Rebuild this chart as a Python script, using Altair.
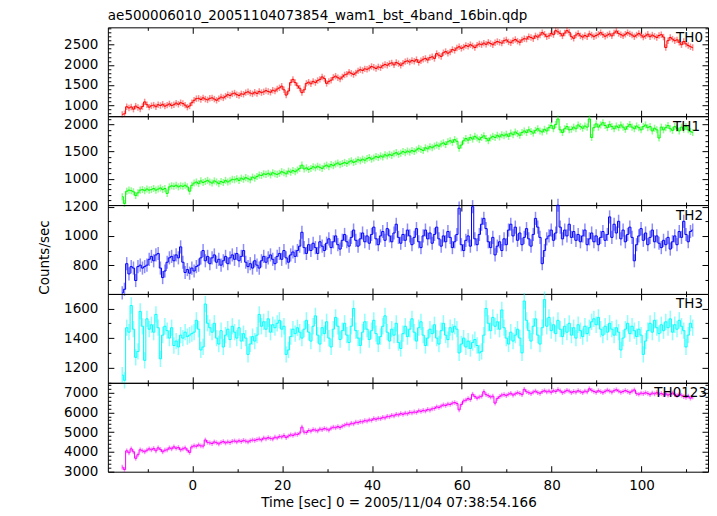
import altair as alt
import pandas as pd

# ---------------- data (counts/sec, 0.5 s bins) ----------------
T_START = -15.6
BIN = 0.5

TH0 = [770, 785, 960, 930, 955, 900, 975, 940, 905, 965,
       1080, 1010, 950, 985, 1000, 960, 1010, 990, 1020, 975,
       1000, 1030, 990, 1010, 1050, 1020, 1060, 1040, 1000, 950,
       980, 1060, 1120, 1160, 1170, 1140, 1180, 1150, 1130, 1170,
       1180, 1150, 1120, 1160, 1200, 1180, 1220, 1260, 1240, 1280,
       1300, 1260, 1240, 1280, 1270, 1310, 1330, 1300, 1280, 1320,
       1290, 1340, 1310, 1330, 1360, 1340, 1320, 1370, 1350, 1400,
       1430, 1470, 1380, 1250, 1350, 1560, 1640, 1560, 1480, 1420,
       1310, 1380, 1540, 1570, 1530, 1590, 1560, 1610, 1640, 1700,
       1660, 1540, 1590, 1620, 1690, 1720, 1680, 1650, 1700, 1750,
       1770, 1820, 1790, 1760, 1800, 1850, 1880, 1860, 1900, 1890,
       1920, 1960, 1940, 1910, 1950, 1930, 1980, 2010, 1990, 2030,
       2050, 2000, 2060, 2030, 1990, 2040, 2080, 2100, 2070, 2110,
       2090, 2130, 2060, 2100, 2140, 2160, 2120, 2180, 2200, 2160,
       2280, 2240, 2210, 2300, 2330, 2290, 2320, 2380, 2360, 2420,
       2450, 2410, 2440, 2480, 2460, 2500, 2470, 2430, 2490, 2520,
       2500, 2540, 2510, 2560, 2530, 2500, 2550, 2580, 2560, 2540,
       2600, 2620, 2570, 2550, 2600, 2630, 2590, 2560, 2620, 2650,
       2640, 2700, 2680, 2650, 2720, 2690, 2740, 2800, 2760, 2700,
       2720, 2780, 2750, 2850, 2820, 2780, 2720, 2790, 2850, 2810,
       2700, 2660, 2740, 2780, 2720, 2690, 2730, 2700, 2770, 2740,
       2700, 2730, 2760, 2800, 2750, 2710, 2740, 2770, 2720, 2790,
       2840, 2780, 2750, 2720, 2760, 2800, 2770, 2740, 2700, 2740,
       2780, 2740, 2690, 2720, 2760, 2700, 2740, 2710, 2680, 2730,
       2750, 2690, 2430, 2600, 2680, 2640, 2600, 2620, 2560, 2500,
       2580, 2520, 2480, 2450, 2430]

TH1 = [670, 545, 770, 790, 780, 760, 690, 740, 790, 800,
       780, 810, 790, 800, 820, 790, 810, 830, 800, 820,
       730, 850, 870, 860, 880, 850, 870, 860, 880, 850,
       770, 880, 920, 940, 910, 960, 930, 950, 970, 940,
       920, 960, 940, 910, 950, 930, 970, 940, 960, 990,
       980, 1000, 970, 1010, 990, 1020, 1000, 980, 1030, 1010,
       1040, 1070, 1060, 1090, 1080, 1100, 1070, 1110, 1090, 1080,
       1100, 1130, 1110, 1090, 1140, 1120, 1150, 1130, 1160, 1190,
       1250, 1180, 1200, 1170, 1190, 1220, 1200, 1230, 1210, 1190,
       1230, 1250, 1220, 1260, 1240, 1270, 1290, 1260, 1280, 1300,
       1280, 1310, 1330, 1300, 1320, 1350, 1330, 1360, 1340, 1370,
       1390, 1360, 1380, 1410, 1390, 1420, 1400, 1440, 1420, 1450,
       1430, 1460, 1480, 1450, 1470, 1500, 1480, 1510, 1490, 1520,
       1500, 1530, 1560, 1540, 1520, 1570, 1550, 1590, 1570, 1600,
       1620, 1600, 1640, 1660, 1630, 1680, 1700, 1670, 1720, 1690,
       1560, 1620, 1700, 1740, 1710, 1760, 1730, 1780, 1750, 1720,
       1760, 1790, 1740, 1700, 1750, 1780, 1760, 1800, 1770, 1810,
       1790, 1820, 1780, 1840, 1810, 1860, 1830, 1800, 1850, 1880,
       1850, 1900, 1870, 1840, 1890, 1920, 1880, 1860, 1910, 1880,
       1940, 1980, 1920, 2000, 2100, 1900, 1850, 1920, 1960, 1900,
       1910, 1950, 1920, 1990, 1960, 1930, 1970, 1950, 2100, 1760,
       1940, 2010, 1950, 1990, 2030, 1980, 1940, 2000, 1960, 1920,
       1970, 1940, 1990, 1950, 1910, 1960, 2000, 1950, 1920, 1970,
       1940, 1900, 1960, 1990, 1940, 1960, 1880, 1930, 1900, 1750,
       1950, 1900, 1940, 1980, 1920, 1890, 1960, 1930, 1880, 1950,
       1910, 1960, 1900, 1870, 1850]

TH2 = [610, 635, 810, 740, 790, 780, 695, 790, 800, 780,
       790, 800, 840, 860, 830, 870, 880, 780, 715, 760,
       820, 850, 860, 830, 870, 850, 925, 820, 750, 770,
       745, 780, 760, 790, 800, 850, 900, 830, 860, 810,
       850, 870, 820, 840, 800, 830, 860, 810, 850, 870,
       840, 880, 830, 860, 900, 820, 790, 810, 780, 830,
       800, 780, 830, 860, 820, 850, 870, 840, 810, 860,
       880, 840, 900, 850, 820, 870, 890, 860, 900, 930,
       1025, 920, 880, 940, 900, 950, 920, 880, 960, 930,
       900, 950, 980, 920, 960, 1000, 940, 910, 970, 1010,
       960, 930, 990, 1040, 970, 930, 980, 1020, 960, 1000,
       950, 1010, 1060, 980, 940, 1000, 1030, 970, 1050, 1000,
       960, 1020, 1080, 990, 950, 1010, 970, 1040, 1000, 940,
       990, 1050, 960, 920, 1000, 1040, 980, 1020, 950, 1010,
       1060, 980, 930, 1000, 960, 1030, 990, 920, 960, 1010,
       1190, 940, 900, 970, 1000, 930, 1200, 980, 940, 1010,
       1080, 1120, 1050, 960, 920, 990, 870, 930, 960, 900,
       980, 940, 1040, 1080, 1000, 1060, 970, 1020, 940, 990,
       1050, 980, 930, 1010, 1120, 1060, 990, 810, 900, 980,
       1000, 1040, 970, 1020, 1210, 1060, 980, 1040, 1000, 1080,
       990, 1030, 970, 1010, 960, 1000, 1040, 940, 980, 1020,
       960, 1000, 940, 990, 1030, 970, 1010, 1130, 990, 1080,
       1020, 1100, 980, 1040, 960, 1010, 1060, 990, 830, 940,
       1000, 1050, 970, 1020, 940, 990, 1040, 960, 1000, 950,
       920, 970, 940, 990, 910, 960, 1000, 940, 1030, 990,
       1100, 1010, 960, 1030, 1040]

TH3 = [1150, 1115, 1470, 1440, 1620, 1460, 1270, 1310, 1580, 1480,
       1250, 1530, 1460, 1490, 1440, 1560, 1470, 1260, 1420, 1480,
       1450, 1400, 1470, 1350, 1380, 1340, 1420, 1400, 1440, 1410,
       1420, 1430, 1440, 1520, 1460, 1320, 1340, 1630, 1500, 1470,
       1440, 1500, 1400, 1360, 1450, 1340, 1420, 1460, 1390, 1480,
       1440, 1400, 1470, 1380, 1430, 1400, 1290, 1360, 1410, 1380,
       1420, 1560, 1480, 1510, 1460, 1530, 1440, 1490, 1470, 1500,
       1520, 1460, 1480, 1290, 1320, 1410, 1460, 1430, 1470, 1440,
       1400, 1460, 1520, 1440, 1380, 1480, 1550, 1420, 1360, 1470,
       1430, 1510, 1400, 1340, 1460, 1540, 1480, 1390, 1450, 1500,
       1420, 1370, 1480, 1600, 1450, 1400, 1350, 1440, 1510, 1460,
       1390, 1450, 1520, 1430, 1360, 1410, 1480, 1550, 1440, 1380,
       1460, 1420, 1500, 1370, 1330, 1430, 1480, 1410, 1460, 1530,
       1440, 1380, 1470, 1510, 1420, 1350, 1400, 1460, 1430, 1490,
       1400, 1360, 1450, 1500, 1420, 1390, 1470, 1440, 1480, 1460,
       1300, 1360, 1400, 1340, 1380, 1330, 1370, 1390, 1350, 1300,
       1310, 1420, 1600, 1500, 1450, 1540, 1480, 1510, 1460, 1590,
       1470, 1400, 1360, 1440, 1380, 1420, 1460, 1400, 1300, 1650,
       1520, 1450, 1380, 1480, 1530, 1420, 1360, 1470, 1660, 1480,
       1540, 1450, 1490, 1430, 1520, 1460, 1410, 1480, 1440, 1500,
       1420, 1470, 1400, 1490, 1450, 1410, 1480, 1430, 1470, 1510,
       1530, 1490, 1540, 1460, 1420, 1480, 1440, 1500, 1460, 1420,
       1470, 1440, 1320, 1400, 1460, 1500, 1430, 1480, 1450, 1410,
       1460, 1420, 1290, 1380, 1450, 1500, 1440, 1520, 1470, 1430,
       1490, 1450, 1510, 1470, 1530, 1440, 1490, 1460, 1520, 1480,
       1450, 1340, 1420, 1500, 1470]

TH0123 = [3220, 3100, 4050, 3950, 4150, 4000, 3670, 3850, 4100, 4050,
          4000, 4080, 4150, 4100, 4170, 4050, 4200, 4120, 4000, 4080,
          4100, 4200, 4150, 4250, 4180, 4220, 4100, 4150, 4200, 4080,
          3970, 4250, 4300, 4280, 4350, 4300, 4290, 4600, 4480, 4450,
          4420, 4500, 4460, 4400, 4480, 4520, 4450, 4500, 4470, 4530,
          4550, 4500, 4560, 4520, 4580, 4540, 4500, 4560, 4600, 4580,
          4620, 4650, 4600, 4700, 4660, 4720, 4680, 4650, 4740, 4700,
          4780, 4750, 4820, 4720, 4800, 4860, 4830, 4900, 4880, 4950,
          5250, 5000, 4980, 5080, 5050, 5120, 5100, 5060, 5150, 5120,
          5180, 5150, 5100, 5200, 5250, 5220, 5280, 5230, 5300, 5350,
          5400, 5370, 5450, 5420, 5500, 5480, 5530, 5520, 5580, 5560,
          5620, 5600, 5680, 5650, 5700, 5680, 5750, 5720, 5800, 5780,
          5850, 5820, 5900, 5870, 5940, 5900, 5960, 5930, 6000, 5980,
          6020, 6000, 6080, 6050, 6100, 6070, 6150, 6120, 6180, 6200,
          6280, 6250, 6320, 6380, 6350, 6420, 6400, 6470, 6500, 6450,
          6130, 6400, 6580, 6620, 6700, 6650, 6920, 6800, 6720, 6780,
          6820, 7050, 6900, 6850, 6780, 6820, 6470, 6700, 6800, 6880,
          6900, 6850, 6920, 6970, 6880, 6940, 7000, 6960, 6900, 7170,
          7050, 7000, 6950, 7030, 7080, 7000, 6970, 7050, 7100, 7040,
          7080, 7020, 7100, 7060, 7150, 7090, 7000, 7050, 7120, 7080,
          7000, 7060, 7030, 7100, 7050, 7000, 7080, 7040, 7200, 7120,
          7060, 7020, 7100, 7050, 7000, 7070, 7130, 7080, 7030, 7100,
          7150, 7080, 7020, 7060, 7110, 7060, 7000, 7080, 7140, 6950,
          6920, 6980, 6950, 7000, 6960, 6900, 6980, 6940, 7000, 6920,
          6960, 6900, 6940, 6880, 6920, 6980, 6900, 6850, 6920, 6870,
          6800, 6760, 6830, 6720, 6780]

# typical 1-sigma error half-widths
ERRORS = [80, 65, 45, 55, 120]

NAMES = ["TH0", "TH1", "TH2", "TH3", "TH0123"]
SERIES = [TH0, TH1, TH2, TH3, TH0123]

# tick values
X_MAJOR = [0, 20, 40, 60, 80, 100]
X_MINOR = [-10, 10, 30, 50, 70, 90, 110]
Y_MAJOR = [[1000, 1500, 2000, 2500],
           [1000, 1500, 2000],
           [800, 1000, 1200],
           [1200, 1400, 1600],
           [3000, 4000, 5000, 6000, 7000]]
Y_MINOR = [[v for v in range(800, 3000, 100) if v % 500],
           [v for v in range(600, 2200, 100) if v % 500],
           [700, 900, 1100],
           [1100, 1300, 1500],
           [v for v in range(3200, 7500, 200) if v % 1000]]

TITLE = "ae500006010_20051104073854_wam1_bst_4band_16bin.qdp"
X_TITLE = "Time [sec] 0 = 2005/11/04 07:38:54.166"
Y_TITLE = "Counts/sec"

# ---------------- style ----------------
COLORS = ["#ff0000", "#00ff00", "#0000ff", "#00ffff", "#ff00ff"]
Y_DOMAINS = [[725, 2932], [515, 2151], [603, 1211], [1098, 1698], [2990, 7500]]
X_DOMAIN = [-18.8, 114.8]
LABEL_X = [596, 593, 596, 596, 600]
FONT = "DejaVu Sans"
FS = 13.5
W = 601
H = 89

TIME = [T_START + BIN * i for i in range(len(TH0))]


def tick_axis(orient, values, size, offset):
    return alt.Axis(orient=orient, values=values, tickSize=size, offset=offset,
                    labels=False, domain=False, grid=False, title=None,
                    tickColor="black", tickWidth=1)


def panel(k):
    df = pd.DataFrame({"t": TIME, "rate": SERIES[k]})
    df["lo"] = df["rate"] - ERRORS[k]
    df["hi"] = df["rate"] + ERRORS[k]
    xs = alt.Scale(domain=X_DOMAIN, nice=False, zero=False)
    ys = alt.Scale(domain=Y_DOMAINS[k], nice=False, zero=False)
    base = alt.Chart(df)

    if k == 4:
        xlab = alt.Axis(orient="bottom", values=X_MAJOR, ticks=False, tickSize=0,
                        format="d", labelPadding=7, labelFlush=False, labelOverlap=False,
                        domain=False, grid=False, title=X_TITLE, titlePadding=3,
                        titleX=291)
    else:
        xlab = None
    ykw = dict(orient="left", values=Y_MAJOR[k], ticks=False, tickSize=0, format="d",
               labelPadding=10, labelFlush=False, labelOverlap=False,
               domain=False, grid=False)
    if k == 2:
        ykw.update(title=Y_TITLE, titlePadding=12, titleY=52)
    else:
        ykw.update(title=None)
    ylab = alt.Axis(**ykw)

    bars = base.mark_rule(color=COLORS[k], opacity=0.45, strokeWidth=1.5).encode(
        x=alt.X("t:Q", scale=xs, axis=xlab),
        y=alt.Y("lo:Q", scale=ys, axis=ylab),
        y2="hi:Q",
    )
    line = base.mark_line(color=COLORS[k], strokeWidth=1, interpolate="step").encode(
        x=alt.X("t:Q", scale=xs, axis=tick_axis("top", X_MAJOR, 6, -H)),
        y=alt.Y("rate:Q", scale=ys, axis=tick_axis("right", Y_MAJOR[k], 6, -W)),
    )
    g3 = base.mark_point(opacity=0).encode(
        x=alt.X("t:Q", scale=xs, axis=tick_axis("top", X_MINOR, 3, -H)),
        y=alt.Y("rate:Q", scale=ys, axis=tick_axis("right", Y_MINOR[k], 3, -W)),
    )
    g4 = base.mark_point(opacity=0).encode(
        x=alt.X("t:Q", scale=xs, axis=tick_axis("bottom", X_MAJOR, 6, -H)),
        y=alt.Y("rate:Q", scale=ys, axis=tick_axis("left", Y_MAJOR[k], 6, -W)),
    )
    g5 = base.mark_point(opacity=0).encode(
        x=alt.X("t:Q", scale=xs, axis=tick_axis("bottom", X_MINOR, 3, -H)),
        y=alt.Y("rate:Q", scale=ys, axis=tick_axis("left", Y_MINOR[k], 3, -W)),
    )
    txt = alt.Chart(pd.DataFrame({"label": [NAMES[k]]})).mark_text(
        align="right", baseline="middle", font=FONT, fontSize=FS, color="black"
    ).encode(text="label:N", x=alt.value(LABEL_X[k]), y=alt.value(10.5))

    return alt.layer(bars, line, g3, g4, g5, txt).resolve_axis(
        x="independent", y="independent"
    ).properties(width=W, height=H)


chart = alt.vconcat(*[panel(k) for k in range(5)], spacing=0, bounds="flush").properties(
    title=alt.TitleParams(TITLE, anchor="start", frame="group", font=FONT, fontSize=FS,
                          fontWeight="normal", color="black", offset=4),
    padding={"left": 29, "top": 0, "right": 0, "bottom": 0},
    background="white",
).configure_view(stroke="black", strokeWidth=1).configure_axis(
    labelFont=FONT, labelFontSize=FS, labelColor="black",
    titleFont=FONT, titleFontSize=FS, titleFontWeight="normal", titleColor="black",
)

chart.save("out.html", embed_options={"renderer": "svg", "actions": False})
